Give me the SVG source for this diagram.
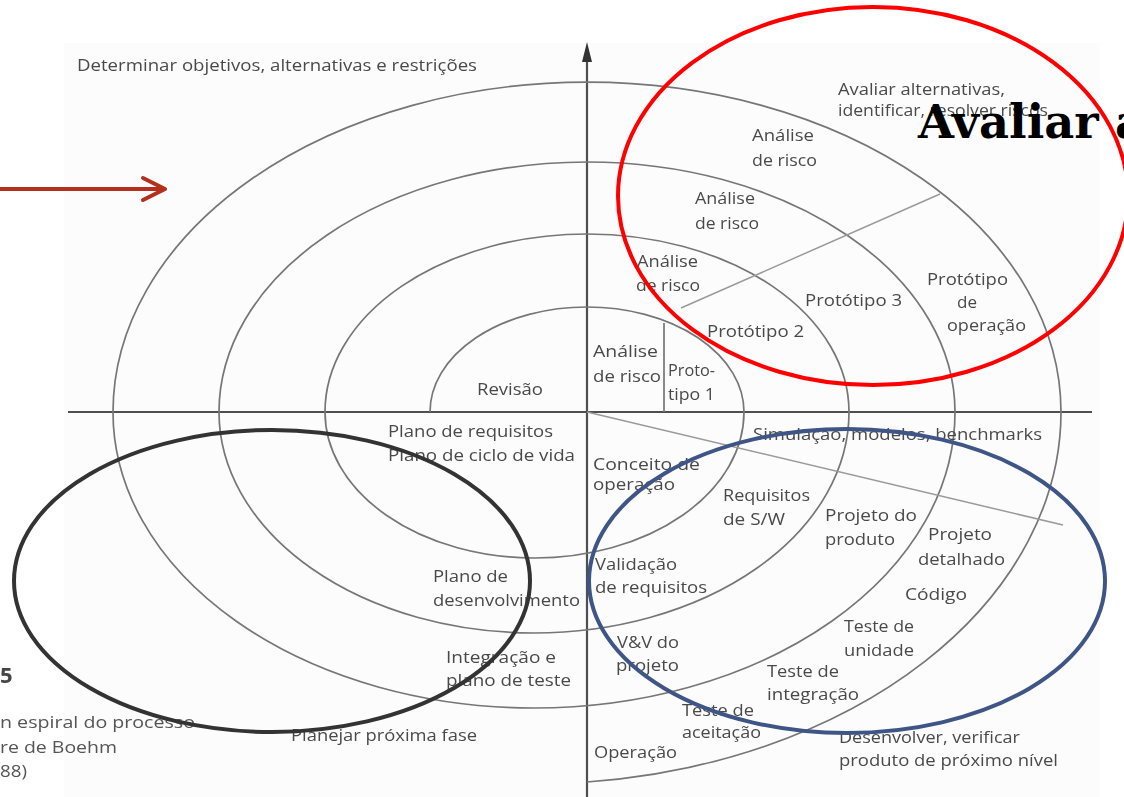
<svg xmlns="http://www.w3.org/2000/svg" width="1124" height="797" viewBox="0 0 1124 797">
  <defs>
    <filter id="soft" x="-5%" y="-5%" width="110%" height="110%">
      <feGaussianBlur stdDeviation="0.65"/>
    </filter>
  </defs>
  <style>
    .ring { fill: none; stroke: #767676; stroke-width: 1.7; }
    .axis { fill: none; stroke: #505050; stroke-width: 2.2; }
    .guide { fill: none; stroke: #9a9a9a; stroke-width: 1.5; }
    .lbl { font-family: "Open Sans", "Liberation Sans", sans-serif; font-size: 16px; fill: #4a4a4a; }
    .cap { font-family: "Open Sans", "Liberation Sans", sans-serif; font-size: 17px; fill: #555555; }
    .mark { fill: none; stroke-width: 4; }
  </style>

  <rect x="0" y="0" width="1124" height="797" fill="#ffffff"/>
  <rect x="64" y="43" width="1036" height="754" fill="#fcfcfc"/>

  <!-- spiral figure: axes, half-ellipse turns and phase labels -->
  <g id="spiral-figure" filter="url(#soft)">
    <g id="axes">
      <line class="axis" x1="68" y1="412" x2="1092" y2="412"/>
      <line class="axis" x1="587" y1="58" x2="587" y2="797"/>
      <polygon points="587,42 582,62 592,62" fill="#333333"/>
    </g>

    <g id="connectors">
      <!-- upper turns, centred on the axis crossing -->
      <path class="ring" d="M430,412 A157,105 0 0 1 744,412"/>
      <path class="ring" d="M325,412 A262,178 0 0 1 849,412"/>
      <path class="ring" d="M219,412 A368,250 0 0 1 955,412"/>
      <path class="ring" d="M113,412 A474,330 0 0 1 1061,412"/>
      <!-- lower turns, shifted left so the curve spirals outwards -->
      <path class="ring" d="M744,412 A209.5,146 0 0 1 325,412"/>
      <path class="ring" d="M849,412 A315,221 0 0 1 219,412"/>
      <path class="ring" d="M955,412 A421,296 0 0 1 113,412"/>
      <path class="ring" d="M1061,412 A527,372 0 0 1 587,782"/>
      <!-- sector dividers -->
      <line class="ring" x1="664" y1="323" x2="664" y2="412"/>
      <line class="guide" x1="681" y1="308" x2="940" y2="194"/>
      <line class="guide" x1="587" y1="412" x2="1063" y2="525"/>
    </g>

    <g id="quadrant-titles">
      <text class="lbl" x="77" y="71" textLength="400" lengthAdjust="spacingAndGlyphs">Determinar objetivos, alternativas e restrições</text>
      <text class="lbl" x="838" y="95" textLength="167" lengthAdjust="spacingAndGlyphs">Avaliar alternativas,</text>
      <text class="lbl" x="838" y="116" textLength="210" lengthAdjust="spacingAndGlyphs">identificar, resolver riscos</text>
      <text class="lbl" x="753" y="440" textLength="289" lengthAdjust="spacingAndGlyphs">Simulação, modelos, benchmarks</text>
      <text class="lbl" x="839" y="743" textLength="181" lengthAdjust="spacingAndGlyphs">Desenvolver, verificar</text>
      <text class="lbl" x="839" y="766" textLength="219" lengthAdjust="spacingAndGlyphs">produto de próximo nível</text>
      <text class="lbl" x="291" y="741" textLength="186" lengthAdjust="spacingAndGlyphs">Planejar próxima fase</text>
    </g>

    <g id="risk-analysis">
      <text class="lbl" x="752" y="141" textLength="62" lengthAdjust="spacingAndGlyphs">Análise</text>
      <text class="lbl" x="752" y="166" textLength="65" lengthAdjust="spacingAndGlyphs">de risco</text>
      <text class="lbl" x="695" y="204" textLength="60" lengthAdjust="spacingAndGlyphs">Análise</text>
      <text class="lbl" x="695" y="229" textLength="64" lengthAdjust="spacingAndGlyphs">de risco</text>
      <text class="lbl" x="637" y="267" textLength="61" lengthAdjust="spacingAndGlyphs">Análise</text>
      <text class="lbl" x="636" y="291" textLength="64" lengthAdjust="spacingAndGlyphs">de risco</text>
      <text class="lbl" x="593" y="357" textLength="65" lengthAdjust="spacingAndGlyphs">Análise</text>
      <text class="lbl" x="593" y="382" textLength="68" lengthAdjust="spacingAndGlyphs">de risco</text>
    </g>

    <g id="prototypes">
      <text class="lbl" x="668" y="376" textLength="47" lengthAdjust="spacingAndGlyphs">Proto-</text>
      <text class="lbl" x="668" y="400" textLength="47" lengthAdjust="spacingAndGlyphs">tipo 1</text>
      <text class="lbl" x="707" y="337" textLength="97" lengthAdjust="spacingAndGlyphs">Protótipo 2</text>
      <text class="lbl" x="805" y="306" textLength="97" lengthAdjust="spacingAndGlyphs">Protótipo 3</text>
      <text class="lbl" x="927" y="285" textLength="81" lengthAdjust="spacingAndGlyphs">Protótipo</text>
      <text class="lbl" x="957" y="308" textLength="20" lengthAdjust="spacingAndGlyphs">de</text>
      <text class="lbl" x="947" y="331" textLength="79" lengthAdjust="spacingAndGlyphs">operação</text>
    </g>

    <g id="planning">
      <text class="lbl" x="477" y="395" textLength="66" lengthAdjust="spacingAndGlyphs">Revisão</text>
      <text class="lbl" x="388" y="437" textLength="165" lengthAdjust="spacingAndGlyphs">Plano de requisitos</text>
      <text class="lbl" x="388" y="461" textLength="187" lengthAdjust="spacingAndGlyphs">Plano de ciclo de vida</text>
      <text class="lbl" x="433" y="582" textLength="75" lengthAdjust="spacingAndGlyphs">Plano de</text>
      <text class="lbl" x="433" y="606" textLength="147" lengthAdjust="spacingAndGlyphs">desenvolvimento</text>
      <text class="lbl" x="446" y="663" textLength="110" lengthAdjust="spacingAndGlyphs">Integração e</text>
      <text class="lbl" x="446" y="686" textLength="125" lengthAdjust="spacingAndGlyphs">plano de teste</text>
    </g>

    <g id="development">
      <text class="lbl" x="593" y="470" textLength="107" lengthAdjust="spacingAndGlyphs">Conceito de</text>
      <text class="lbl" x="593" y="490" textLength="82" lengthAdjust="spacingAndGlyphs">operação</text>
      <text class="lbl" x="723" y="501" textLength="87" lengthAdjust="spacingAndGlyphs">Requisitos</text>
      <text class="lbl" x="723" y="525" textLength="62" lengthAdjust="spacingAndGlyphs">de S/W</text>
      <text class="lbl" x="825" y="521" textLength="92" lengthAdjust="spacingAndGlyphs">Projeto do</text>
      <text class="lbl" x="825" y="545" textLength="70" lengthAdjust="spacingAndGlyphs">produto</text>
      <text class="lbl" x="928" y="540" textLength="64" lengthAdjust="spacingAndGlyphs">Projeto</text>
      <text class="lbl" x="918" y="565" textLength="87" lengthAdjust="spacingAndGlyphs">detalhado</text>
      <text class="lbl" x="905" y="600" textLength="62" lengthAdjust="spacingAndGlyphs">Código</text>
      <text class="lbl" x="595" y="570" textLength="82" lengthAdjust="spacingAndGlyphs">Validação</text>
      <text class="lbl" x="595" y="593" textLength="112" lengthAdjust="spacingAndGlyphs">de requisitos</text>
      <text class="lbl" x="617" y="648" textLength="62" lengthAdjust="spacingAndGlyphs">V&amp;V do</text>
      <text class="lbl" x="616" y="671" textLength="63" lengthAdjust="spacingAndGlyphs">projeto</text>
      <text class="lbl" x="844" y="632" textLength="70" lengthAdjust="spacingAndGlyphs">Teste de</text>
      <text class="lbl" x="844" y="656" textLength="70" lengthAdjust="spacingAndGlyphs">unidade</text>
      <text class="lbl" x="767" y="677" textLength="72" lengthAdjust="spacingAndGlyphs">Teste de</text>
      <text class="lbl" x="767" y="700" textLength="92" lengthAdjust="spacingAndGlyphs">integração</text>
      <text class="lbl" x="682" y="716" textLength="72" lengthAdjust="spacingAndGlyphs">Teste de</text>
      <text class="lbl" x="682" y="738" textLength="79" lengthAdjust="spacingAndGlyphs">aceitação</text>
      <text class="lbl" x="594" y="758" textLength="83" lengthAdjust="spacingAndGlyphs">Operação</text>
    </g>

    <g id="caption">
      <text x="0" y="683" font-family="'Open Sans', 'Liberation Sans', sans-serif" font-size="22" font-weight="bold" fill="#444444">5</text>
      <text class="cap" x="0" y="728" textLength="195" lengthAdjust="spacingAndGlyphs">n espiral do processo</text>
      <text class="cap" x="0" y="753" textLength="117" lengthAdjust="spacingAndGlyphs">re de Boehm</text>
      <text class="cap" x="0" y="777" textLength="27" lengthAdjust="spacingAndGlyphs">88)</text>
    </g>
  </g>

  <!-- highlight marks drawn over the figure -->
  <g id="pointer-arrow">
    <line x1="0" y1="189" x2="163" y2="189" stroke="#b3301e" stroke-width="4"/>
    <polyline points="143,178 165,189 143,200" fill="none" stroke="#b3301e" stroke-width="4" stroke-linecap="round" stroke-linejoin="round"/>
  </g>

  <g id="risk-highlight">
    <ellipse class="mark" cx="873" cy="196" rx="255" ry="189" stroke="#ff0000"/>
    <text x="918" y="138" font-family="'DejaVu Serif', 'Liberation Serif', serif" font-size="46" font-weight="bold" fill="#000000" textLength="227" lengthAdjust="spacingAndGlyphs">Avaliar a</text>
  </g>

  <g id="planning-highlight">
    <ellipse class="mark" cx="272" cy="581" rx="258" ry="151" stroke="#333333" stroke-width="4.5"/>
  </g>

  <g id="engineering-highlight">
    <ellipse class="mark" cx="847" cy="581" rx="258" ry="152" stroke="#3f5585"/>
  </g>
</svg>
